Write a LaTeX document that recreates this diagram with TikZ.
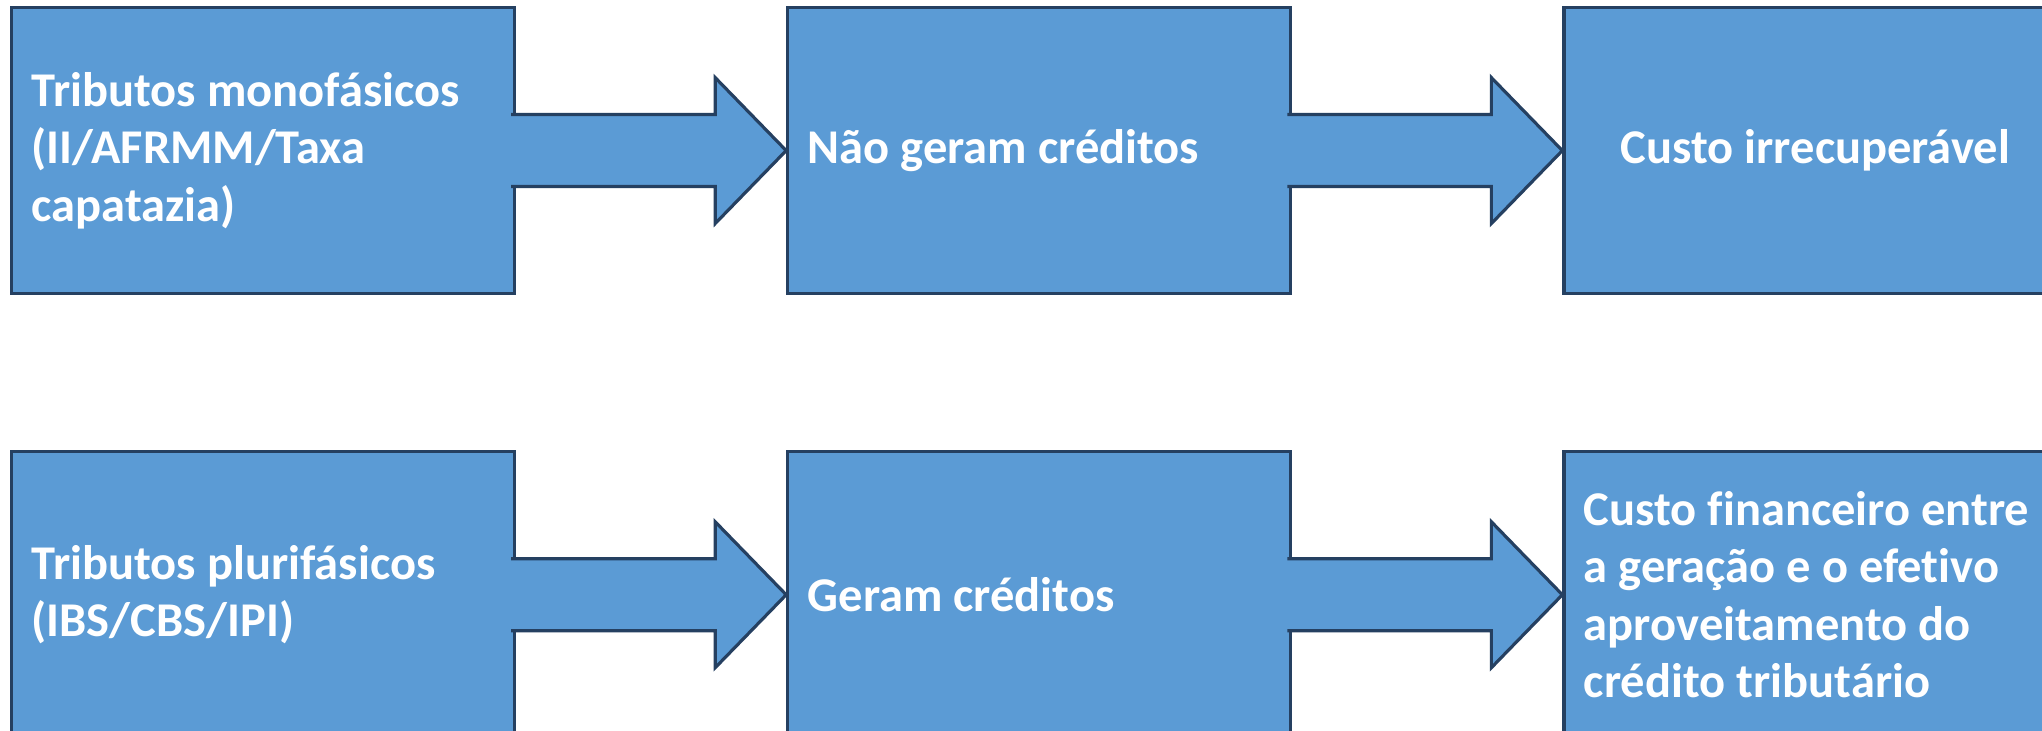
\documentclass[tikz,border=0pt]{standalone}
\usepackage{fontspec}
\setmainfont[Ligatures=NoCommon]{Carlito}
\usetikzlibrary{positioning,calc}
\definecolor{boxblue}{HTML}{5B9BD5}
\definecolor{boxline}{RGB}{37,64,97}

\begin{document}
\begin{tikzpicture}[
box/.style = {draw=boxline, fill=boxblue, line width=0.9pt, minimum width=5.03cm, minimum height=2.86cm,
  inner xsep=0.2cm, inner ysep=0pt, text width=4.63cm, align=flush left, text=white,
  font=\fontsize{13.8}{16.3}\selectfont\bfseries},
flow/.style = {draw=boxline, fill=boxblue, line width=0.9pt,
  to path={($(\tikztostart)+(-0.05,0.36)$) -- ($(\tikztotarget)+(-0.71,0.36)$)
    -- ($(\tikztotarget)+(-0.71,0.73)$) -- (\tikztotarget) -- ($(\tikztotarget)+(-0.71,-0.73)$)
    -- ($(\tikztotarget)+(-0.71,-0.36)$) -- ($(\tikztostart)+(-0.05,-0.36)$)}},
]
\useasboundingbox (0,0) rectangle (20.42,-7.31);
\clip (0,0) rectangle (20.42,-7.31);
\fill[white] (0,0) rectangle (20.42,-7.31);

\node [box, anchor=north west] (mono) at (0.10,-0.06) {Tributos monofásicos\\(II/AFRMM/Taxa\\capatazia)};
\node [box, right = 2.7cm of mono] (nao) {Não geram créditos};
\node [box, align=flush center, right = 2.7cm of nao] (irrec) {Custo irrecuperável};
\node [box, below = 1.55cm of mono] (pluri) {Tributos plurifásicos\\(IBS/CBS/IPI)};
\node [box, right = 2.7cm of pluri] (geram) {Geram créditos};
\node [box, right = 2.7cm of geram] (financ) {Custo financeiro entre\\a geração e o efetivo\\aproveitamento do\\crédito tributário};

\draw [flow] (mono.east) to (nao.west);
\draw [flow] (nao.east) to (irrec.west);
\draw [flow] (pluri.east) to (geram.west);
\draw [flow] (geram.east) to (financ.west);
\end{tikzpicture}
\end{document}
